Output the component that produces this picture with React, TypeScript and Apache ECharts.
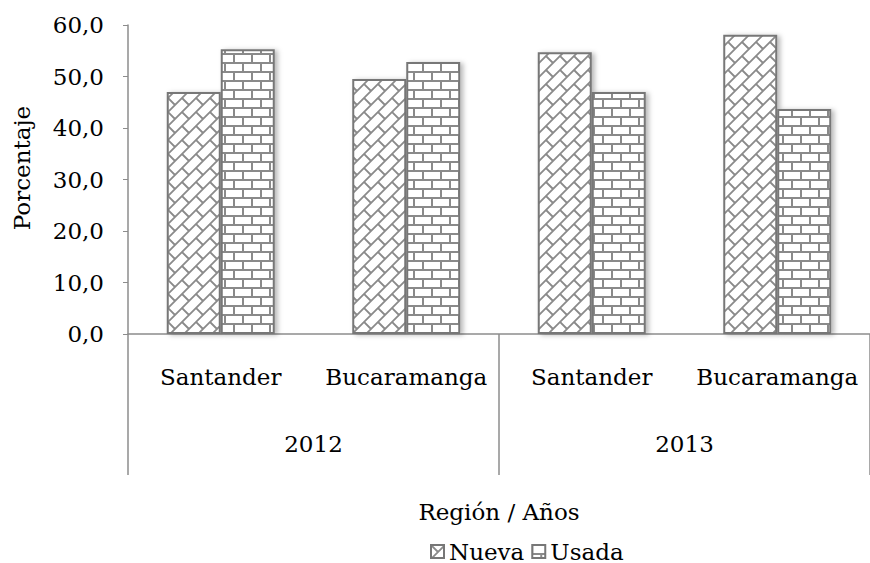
import React, { useEffect, useRef } from "react";
import * as echarts from "echarts";

const categories = ["Santander", "Bucaramanga", "Santander", "Bucaramanga"];
const years = ["2012", "2013"];
const seriesNames = ["Nueva", "Usada"];
const nueva = [47.0, 49.5, 54.7, 58.1];
const usada = [55.3, 52.8, 47.0, 43.7];
const yMin = 0;
const yMax = 60;
const yInterval = 10;

const FONT = "DejaVu Serif";
const FS = 23;

function makeBrick(): string {
  const c = document.createElement("canvas");
  c.width = 18;
  c.height = 18;
  const g = c.getContext("2d")!;
  g.fillStyle = "#ffffff";
  g.fillRect(0, 0, 18, 18);
  g.strokeStyle = "#8a8a8a";
  g.lineWidth = 2;
  g.beginPath();
  g.moveTo(0, 0); g.lineTo(18, 0);
  g.moveTo(0, 9); g.lineTo(18, 9);
  g.moveTo(0, 18); g.lineTo(18, 18);
  g.moveTo(0, 0); g.lineTo(0, 9);
  g.moveTo(18, 0); g.lineTo(18, 9);
  g.moveTo(9, 9); g.lineTo(9, 18);
  g.stroke();
  return c.toDataURL();
}

function makeDiag(): string {
  const T = 28;
  const H = T / 2;
  const c = document.createElement("canvas");
  c.width = T;
  c.height = T;
  const g = c.getContext("2d")!;
  g.fillStyle = "#ffffff";
  g.fillRect(0, 0, T, T);
  g.strokeStyle = "#8a8a8a";
  g.lineWidth = 1.8;
  g.beginPath();
  for (let k = -2 * T; k <= 4 * T; k += H) {
    g.moveTo(k + T, -T);
    g.lineTo(k - 2 * T, 2 * T);
  }
  for (let b = -8; b <= 10; b++) {
    const base = H * b;
    const d0 = (((b % 2) + 2) % 2) * H;
    for (let d = d0 - 3 * T; d <= 3 * T; d += T) {
      g.moveTo((d + base) / 2, (base - d) / 2);
      g.lineTo((d + base + H) / 2, (base + H - d) / 2);
    }
  }
  g.stroke();
  return c.toDataURL();
}

export default function App() {
  const ref = useRef<HTMLDivElement>(null);
  useEffect(() => {
    if (!ref.current) return;
    const chart = echarts.init(ref.current, null, { renderer: "svg" });
    const brick = makeBrick();
    const diag = makeDiag();
    const common = {
      type: "bar",
      barWidth: 54,
      barGap: "0%",
    };
    const itemBase = {
      borderColor: "#777777",
      borderWidth: 2,
      shadowColor: "rgba(0,0,0,0.28)",
      shadowBlur: 5,
      shadowOffsetX: 3,
      shadowOffsetY: 1,
    };
    const txt = { fontSize: FS, color: "#000", fontFamily: FONT };
    chart.setOption({
      animation: false,
      textStyle: { fontFamily: FONT },
      grid: { left: 128, right: -3, top: 25, bottom: 229 },
      legend: {
        data: seriesNames,
        left: 430,
        top: 540,
        padding: 0,
        itemWidth: 13,
        itemHeight: 13,
        itemGap: 7,
        icon: "rect",
        textStyle: { ...txt, lineHeight: 22 },
      },
      xAxis: [
        {
          type: "category",
          data: categories,
          gridIndex: 0,
          position: "bottom",
          axisLine: { lineStyle: { color: "#8c8c8c", width: 1.5 } },
          axisTick: { show: false },
          axisLabel: { ...txt, margin: 31, interval: 0 },
          name: "Región / Años",
          nameLocation: "middle",
          nameGap: 166,
          nameTextStyle: txt,
        },
        {
          type: "category",
          data: years,
          gridIndex: 0,
          position: "bottom",
          offset: 0,
          axisLine: { show: false },
          axisTick: { show: true, length: 141, lineStyle: { color: "#8c8c8c", width: 1.5 } },
          axisLabel: { ...txt, margin: 98 },
        },
      ],
      yAxis: {
        type: "value",
        min: yMin,
        max: yMax,
        interval: yInterval,
        axisLine: { show: true, lineStyle: { color: "#8c8c8c", width: 1.5 } },
        axisTick: { show: true, length: 5, lineStyle: { color: "#8c8c8c" } },
        splitLine: { show: false },
        axisLabel: {
          ...txt,
          margin: 24,
          formatter: (v: number) => v.toFixed(1).replace(".", ","),
        },
      },
      graphic: [
        {
          type: "text",
          x: 22,
          y: 168,
          rotation: Math.PI / 2,
          style: {
            text: "Porcentaje",
            fontSize: FS,
            fontFamily: FONT,
            fill: "#000",
            textAlign: "center",
            textVerticalAlign: "middle",
          },
        },
      ],
      series: [
        {
          ...common,
          name: seriesNames[0],
          data: nueva,
          itemStyle: {
            ...itemBase,
            color: { image: diag, repeat: "repeat", imageWidth: 28, imageHeight: 28 },
          },
        },
        {
          ...common,
          name: seriesNames[1],
          data: usada,
          itemStyle: {
            ...itemBase,
            color: { image: brick, repeat: "repeat", imageWidth: 18, imageHeight: 18 },
          },
        },
      ],
    } as any);
    return () => chart.dispose();
  }, []);
  return (
    <div
      ref={ref}
      style={{ position: "fixed", left: 0, top: 0, width: 870, height: 563, background: "#fff" }}
    />
  );
}
